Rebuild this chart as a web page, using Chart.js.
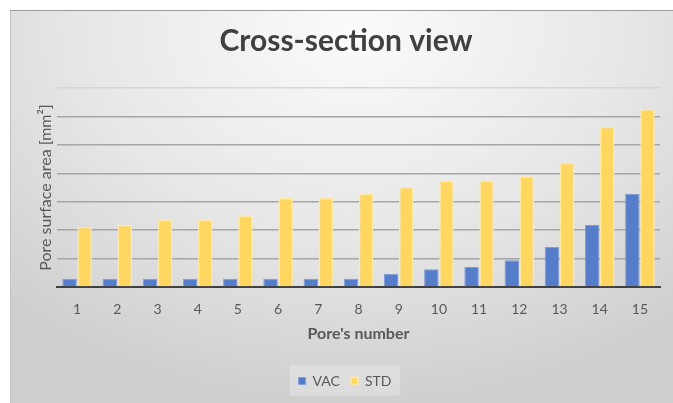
<!DOCTYPE html>
<html>
<head>
<meta charset="utf-8">
<script src="https://cdn.jsdelivr.net/npm/chart.js@4.4.0/dist/chart.umd.min.js"></script>
<style>
  html, body { margin: 0; background: #fff; }
  .box {
    position: absolute; left: 10px; top: 10px; width: 663px; height: 393px;
    background: radial-gradient(ellipse 75% 95% at 52% 5%, #fbfbfb 0%, #e7e7e7 55%, #cfcfcf 100%);
    box-shadow: inset 0 1px 0 #9a9a9a, inset 1px 0 0 #c4c4c4;
  }
  canvas { position: absolute; left: 0; top: 0; }
</style>
</head>
<body>
<div class="box"><canvas id="chart" width="663" height="393"></canvas></div>
<script>
// values, one unit = one gridline
const pores = ["1", "2", "3", "4", "5", "6", "7", "8", "9", "10", "11", "12", "13", "14", "15"];
const vac = [0.29, 0.29, 0.29, 0.29, 0.29, 0.29, 0.29, 0.29, 0.47, 0.62, 0.70, 0.94, 1.41, 2.18, 3.28];
const std = [2.12, 2.19, 2.37, 2.37, 2.51, 3.13, 3.13, 3.28, 3.52, 3.75, 3.75, 3.90, 4.37, 5.64, 6.26];
const yMax = 7;

const FONT = "Lato";

// the original chart is cropped on the right, so title and legend sit a bit right of centre
const shiftBoxes = {
  id: "shiftBoxes",
  afterLayout(chart) {
    const t = chart.titleBlock;
    t.left += 11;
    t.right += 11;
    const l = chart.legend;
    l.left += 10;
    l.right += 10;
  },
};

// lighter box behind the legend
const legendBg = {
  id: "legendBg",
  beforeDraw(chart) {
    const l = chart.legend;
    if (!l) return;
    const ctx = chart.ctx;
    const cy = l.top + l.height / 2;
    ctx.save();
    ctx.fillStyle = "rgba(255,255,255,0.25)";
    ctx.fillRect(l.left + (l.width - 110) / 2, cy - 15, 110, 30);
    ctx.restore();
  },
};

const config = {
  type: "bar",
  data: {
    labels: pores,
    datasets: [
      {
        label: "VAC",
        data: vac,
        backgroundColor: "#557dca",
        borderColor: "#7f9ddb",
        borderWidth: 1,
        categoryPercentage: 0.75,
        barPercentage: 0.96,
      },
      {
        label: "STD",
        data: std,
        backgroundColor: "#ffd65f",
        borderColor: "#ffe9a6",
        borderWidth: 1.5,
        categoryPercentage: 0.75,
        barPercentage: 0.96,
      },
    ],
  },
  options: {
    responsive: false,
    animation: false,
    layout: {
      padding: { left: 0, right: 13, top: 0, bottom: 5 },
    },
    scales: {
      x: {
        grid: { display: false },
        border: { display: true, color: "#404040", width: 2 },
        ticks: {
          color: "#595959",
          font: { family: FONT, size: 14 },
          padding: 6,
        },
        title: {
          display: true,
          text: "Pore's number",
          color: "#595959",
          font: { family: FONT, size: 16, weight: "bold" },
          padding: { top: 0, bottom: 20 },
        },
        afterFit(scale) {
          scale.height = 76;
        },
      },
      y: {
        min: 0,
        max: yMax,
        ticks: { display: false, stepSize: 1 },
        grid: {
          // top line is much fainter in the original
          color: (ctx) => (ctx.tick && ctx.tick.value === yMax ? "#d6d6d6" : "#a6a6a6"),
          lineWidth: 1.5,
          drawTicks: false,
        },
        border: { display: false },
        title: {
          display: true,
          text: "Pore surface area [mm²]",
          color: "#595959",
          font: { family: FONT, size: 16 },
          padding: { top: 26, bottom: 0 },
        },
        afterFit(scale) {
          scale.width = 47;
        },
      },
    },
    plugins: {
      title: {
        display: true,
        text: "Cross-section view",
        color: "#404040",
        font: { family: FONT, size: 30, weight: "bold" },
        padding: { top: 13, bottom: 29 },
      },
      legend: {
        position: "bottom",
        labels: {
          boxWidth: 7,
          boxHeight: 7,
          padding: 11,
          color: "#595959",
          font: { family: FONT, size: 14 },
        },
      },
      tooltip: { enabled: false },
    },
  },
  plugins: [shiftBoxes, legendBg],
};

const myChart = new Chart(document.getElementById("chart"), config);
</script>
</body>
</html>
